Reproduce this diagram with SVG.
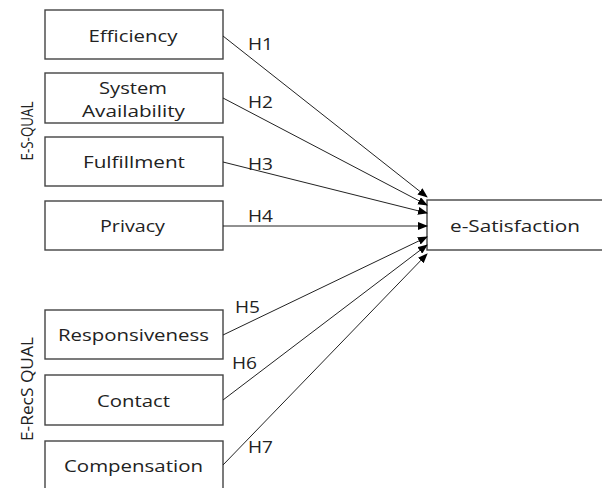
<svg xmlns="http://www.w3.org/2000/svg" width="602" height="488" viewBox="0 0 602 488">
<defs>
<marker id="arr" markerWidth="10" markerHeight="8" refX="9" refY="4" orient="auto" markerUnits="userSpaceOnUse">
<path d="M0,0 L10,4 L0,8 z" fill="#000"/>
</marker>
<style>
.box{fill:#fff;stroke:#444;stroke-width:1.4}
.t{font-family:"Open Sans","Noto Sans",sans-serif;font-size:17px;fill:#222;text-anchor:middle}
.v{font-family:"Open Sans","Noto Sans",sans-serif;font-size:15.5px;fill:#222;text-anchor:middle}
.h{font-family:"Open Sans","Noto Sans",sans-serif;font-size:17px;fill:#222}
.c{stroke:#222;stroke-width:1;fill:none;marker-end:url(#arr)}
</style>
</defs>
<rect width="602" height="488" fill="#fff"/>
<g id="efficiency"><rect class="box" x="45" y="10" width="178" height="49"/><text class="t" x="133" y="42" textLength="89" lengthAdjust="spacingAndGlyphs">Efficiency</text></g>
<g id="system-availability"><rect class="box" x="45" y="73" width="178" height="50"/><text class="t" x="133" y="94" textLength="68" lengthAdjust="spacingAndGlyphs">System</text><text class="t" x="133.5" y="117" textLength="103" lengthAdjust="spacingAndGlyphs">Availability</text></g>
<g id="fulfillment"><rect class="box" x="45" y="137" width="178" height="49"/><text class="t" x="134" y="168" textLength="102" lengthAdjust="spacingAndGlyphs">Fulfillment</text></g>
<g id="privacy"><rect class="box" x="45" y="201" width="178" height="49"/><text class="t" x="132.5" y="232" textLength="65" lengthAdjust="spacingAndGlyphs">Privacy</text></g>
<g id="responsiveness"><rect class="box" x="45" y="310" width="178" height="49"/><text class="t" x="133.5" y="341" textLength="151" lengthAdjust="spacingAndGlyphs">Responsiveness</text></g>
<g id="contact"><rect class="box" x="45" y="375" width="178" height="50"/><text class="t" x="133.5" y="407" textLength="73" lengthAdjust="spacingAndGlyphs">Contact</text></g>
<g id="compensation"><rect class="box" x="45" y="441" width="178" height="50"/><text class="t" x="133.5" y="472" textLength="139" lengthAdjust="spacingAndGlyphs">Compensation</text></g>
<g id="e-satisfaction"><rect class="box" x="427" y="200" width="190" height="50"/><text class="t" x="515" y="232" textLength="130" lengthAdjust="spacingAndGlyphs">e-Satisfaction</text></g>
<g id="e-s-qual"><text class="v" transform="translate(33,131) rotate(-90)" textLength="59" lengthAdjust="spacingAndGlyphs">E-S-QUAL</text></g>
<g id="e-recs-qual"><text class="v" transform="translate(33,389) rotate(-90)" textLength="104" lengthAdjust="spacingAndGlyphs">E-RecS QUAL</text></g>
<g id="connectors">
<line class="c" x1="223" y1="36" x2="427" y2="197"/>
<line class="c" x1="223" y1="98" x2="427" y2="205"/>
<line class="c" x1="223" y1="162" x2="427" y2="213"/>
<line class="c" x1="223" y1="226" x2="427" y2="226"/>
<line class="c" x1="223" y1="335" x2="427" y2="237"/>
<line class="c" x1="223" y1="400" x2="427" y2="245"/>
<line class="c" x1="223" y1="465" x2="427" y2="254"/>
<text class="h" x="248" y="50" textLength="25" lengthAdjust="spacingAndGlyphs">H1</text>
<text class="h" x="248" y="108" textLength="25" lengthAdjust="spacingAndGlyphs">H2</text>
<text class="h" x="248" y="170" textLength="25" lengthAdjust="spacingAndGlyphs">H3</text>
<text class="h" x="248" y="222" textLength="25" lengthAdjust="spacingAndGlyphs">H4</text>
<text class="h" x="235" y="313" textLength="25" lengthAdjust="spacingAndGlyphs">H5</text>
<text class="h" x="232" y="369" textLength="25" lengthAdjust="spacingAndGlyphs">H6</text>
<text class="h" x="248" y="453" textLength="25" lengthAdjust="spacingAndGlyphs">H7</text>
</g>
</svg>
